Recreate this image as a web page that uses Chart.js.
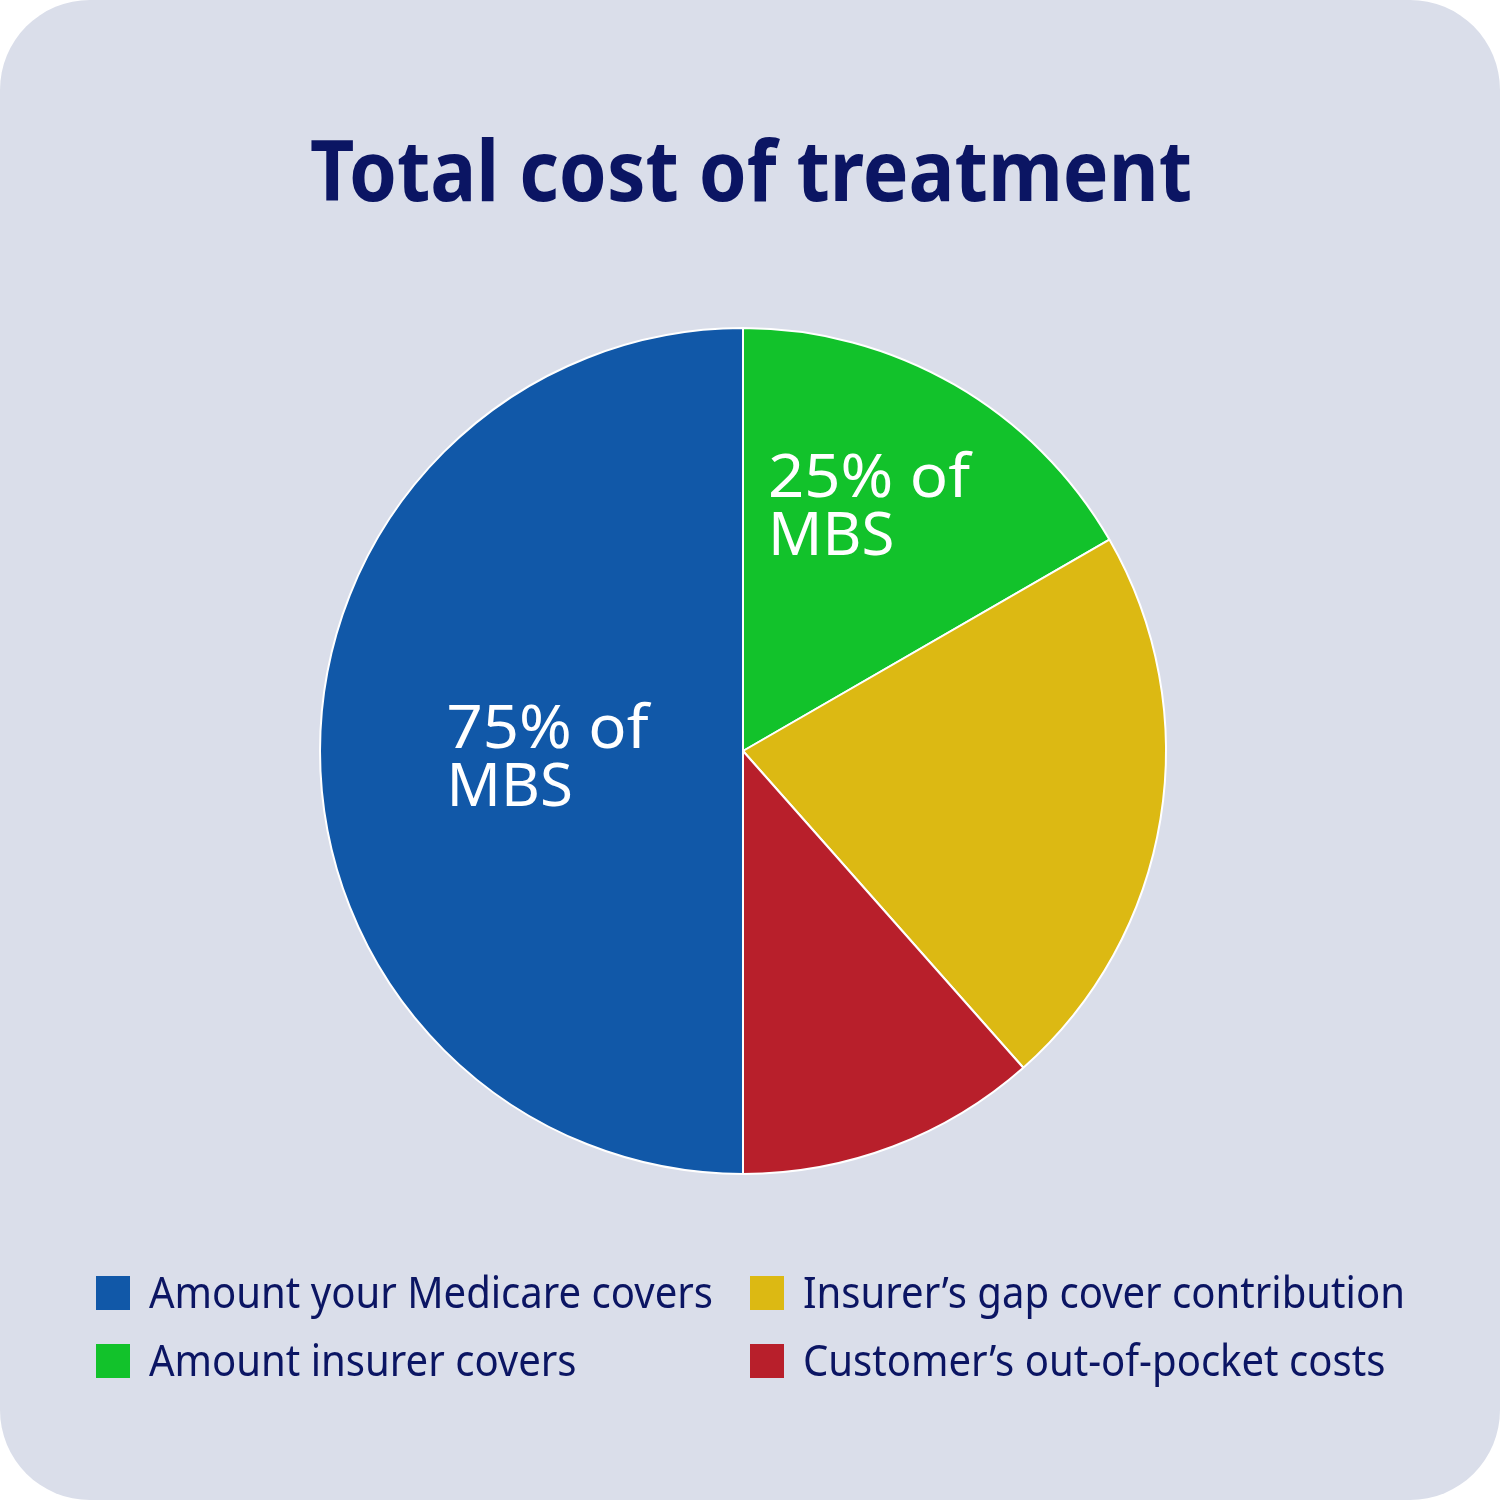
<!DOCTYPE html>
<html>
<head>
<meta charset="utf-8">
<script src="https://cdn.jsdelivr.net/npm/chart.js@4"></script>
<style>
  html, body { margin:0; padding:0; background:#ffffff; }
  #wrap { position:relative; width:1500px; height:1500px; background:#dadeea; border-radius:90px; overflow:hidden; }
  canvas { display:block; }
</style>
</head>
<body>
<div id="wrap"><canvas id="c" width="1500" height="1500"></canvas></div>
<script>
const chartTitle = 'Total cost of treatment';
const categories = ['Amount your Medicare covers', 'Amount insurer covers', 'Insurer’s gap cover contribution', 'Customer’s out-of-pocket costs'];
const values = [50, 16.67, 21.8, 11.53];
const colors = ['#1158a8', '#12c22b', '#dcb913', '#b81f2b'];
const sliceLabels = [['75% of', 'MBS'], ['25% of', 'MBS'], null, null];
const legendOrder = [0, 2, 1, 3]; // row-major: col1,col2 / col1,col2

const NAVY = '#0b1563';
const FONT = '"Noto Sans", "Open Sans", sans-serif';

// label placement relative to pie centre, in units of radius
const labelOffsets = [
  { dx: -0.701, dy: -0.047 },
  { dx: 0.059, dy: -0.640 },
  null, null
];

function drawFitted(ctx, text, x, y, targetW, align) {
  const w = ctx.measureText(text).width;
  const s = targetW / w;
  ctx.save();
  ctx.translate(x, y);
  ctx.scale(s, 1);
  ctx.textAlign = align;
  ctx.fillText(text, 0, 0);
  ctx.restore();
}

const textPlugin = {
  id: 'texts',
  afterDraw(chart) {
    const ctx = chart.ctx;
    const meta = chart.getDatasetMeta(0);
    // title
    ctx.save();
    ctx.fillStyle = NAVY;
    ctx.textBaseline = 'alphabetic';
    ctx.font = 'bold 84px ' + FONT;
    drawFitted(ctx, chartTitle, 751, 201, 882, 'center');
    ctx.restore();

    // slice labels
    ctx.save();
    ctx.fillStyle = '#ffffff';
    ctx.font = '60px ' + FONT;
    ctx.textBaseline = 'middle';
    meta.data.forEach((arc, i) => {
      const lines = sliceLabels[i];
      const off = labelOffsets[i];
      if (!lines || !off) return;
      const p = arc.getProps(['x', 'y', 'outerRadius'], true);
      const x = p.x + off.dx * p.outerRadius;
      const y = p.y + off.dy * p.outerRadius;
      lines.forEach((ln, k) => {
        const w = ctx.measureText(ln).width;
        ctx.save();
        ctx.translate(x, y + k * 58);
        ctx.scale(k === 0 ? 202 / w : 1, 1);
        ctx.textAlign = 'left';
        ctx.fillText(ln, 0, 0);
        ctx.restore();
      });
    });
    ctx.restore();

    // legend (2 columns)
    ctx.save();
    ctx.font = '44px ' + FONT;
    ctx.textBaseline = 'middle';
    const colX = [96, 750];
    const rowY = [1293, 1361];
    const refW = ctx.measureText(categories[0]).width;
    const sc = 564 / refW;
    legendOrder.forEach((idx, k) => {
      const col = k % 2, row = Math.floor(k / 2);
      const bx = colX[col], by = rowY[row];
      ctx.fillStyle = colors[idx];
      ctx.fillRect(bx, by - 17, 34, 34);
      ctx.fillStyle = NAVY;
      ctx.save();
      ctx.translate(bx + 53, by + 2);
      ctx.scale(sc, 1);
      ctx.textAlign = 'left';
      ctx.fillText(categories[idx], 0, 0);
      ctx.restore();
    });
    ctx.restore();
  }
};

new Chart(document.getElementById('c'), {
  type: 'pie',
  data: {
    labels: categories,
    datasets: [{
      data: values,
      backgroundColor: colors,
      borderColor: '#ffffff',
      borderWidth: 2
    }]
  },
  options: {
    responsive: false,
    animation: false,
    rotation: 180,
    layout: { padding: { top: 327, bottom: 325, left: 319, right: 333 } },
    plugins: {
      legend: { display: false },
      tooltip: { enabled: false },
      title: { display: false }
    }
  },
  plugins: [textPlugin]
});
</script>
</body>
</html>
